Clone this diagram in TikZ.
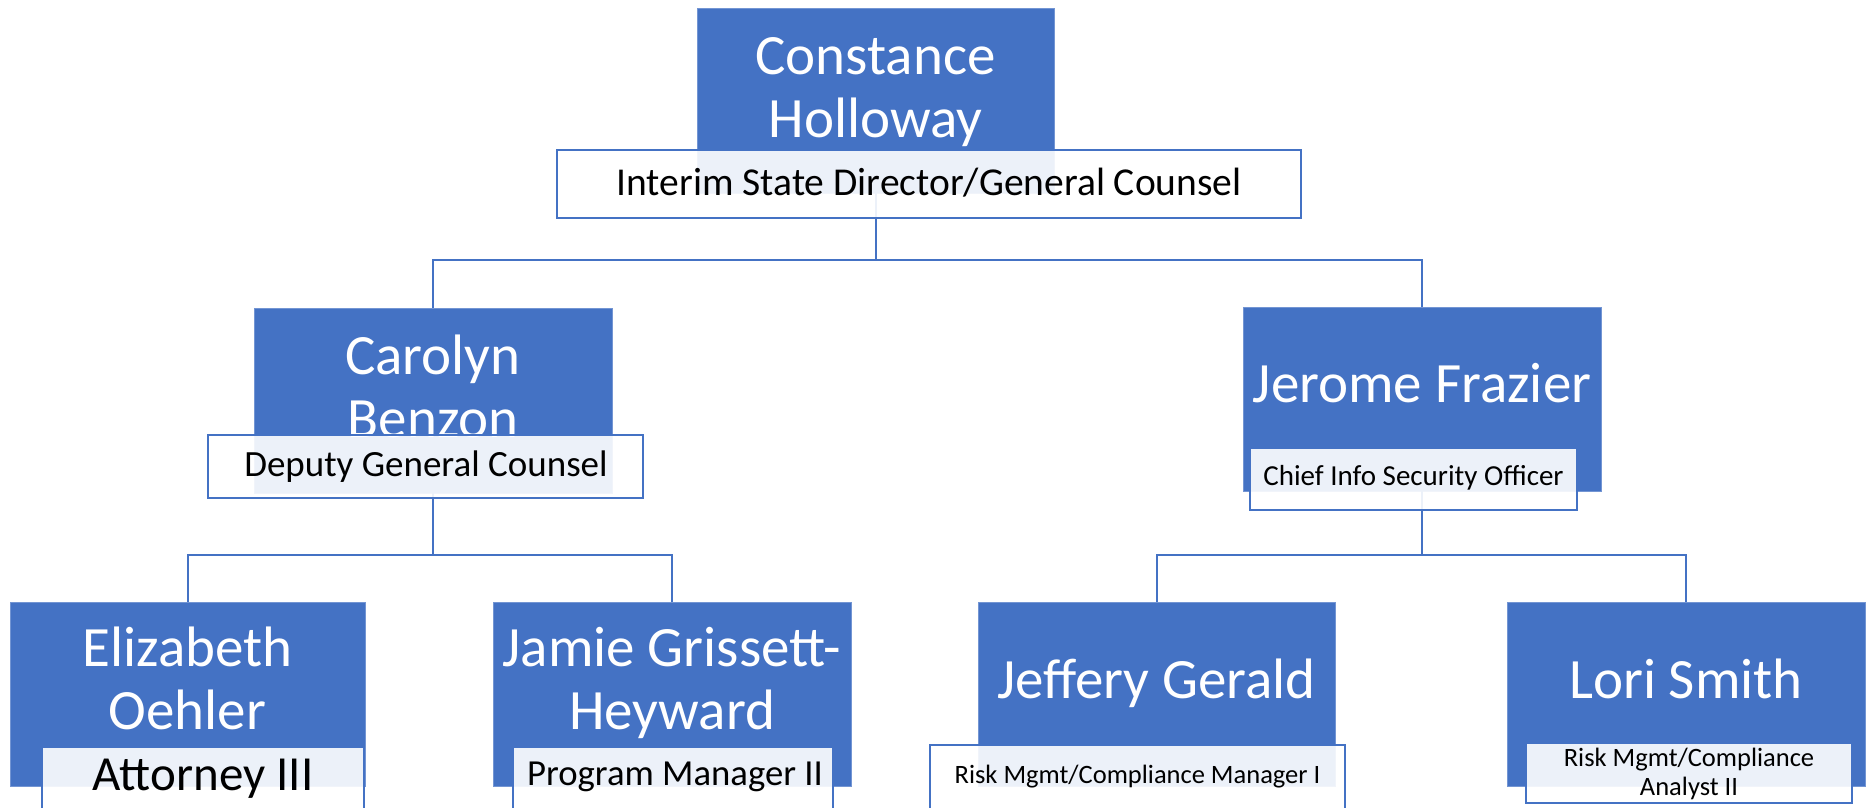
\documentclass[tikz,border=0pt]{standalone}
\usepackage{fontspec}
\setmainfont{Carlito}
\definecolor{accent}{HTML}{4472C4}
\begin{document}
\begin{tikzpicture}[x=1pt,y=-1pt,
  person/.style={rectangle, fill=accent, draw=accent!75!white, line width=0.8pt, inner sep=0pt, outer sep=0pt},
  rolebox/.style={rectangle, fill=white, fill opacity=0.9, draw=accent, draw opacity=1, line width=2pt, inner sep=0pt, outer sep=0pt},
  nametext/.style={text=white, font=\fontsize{57}{63}\selectfont, anchor=base, inner sep=0pt},
  roletext/.style={text=black, anchor=base, inner sep=0pt},
  link/.style={draw=accent, line width=2pt}]
\useasboundingbox (0,0) rectangle (1872,807);

% person boxes
\node[person, minimum width=357, minimum height=185] (constance) at (875.5,100.5) {};
\node[person, minimum width=358, minimum height=185] (carolyn) at (433,400.5) {};
\node[person, minimum width=358, minimum height=184] (jerome) at (1422,399) {};
\node[person, minimum width=355, minimum height=184] (elizabeth) at (187.5,694) {};
\node[person, minimum width=358, minimum height=184] (jamie) at (672,694) {};
\node[person, minimum width=357, minimum height=184] (jeffery) at (1156.5,694) {};
\node[person, minimum width=358, minimum height=184] (lori) at (1686,694) {};

% connectors (drawn behind the role boxes)
\begin{scope}[on background layer/.try]
\end{scope}
\draw[link] (constance.south) -- ++(0,67) coordinate (j0) -| (carolyn.north);
\draw[link] (j0) -| (jerome.north);
\draw[link] (carolyn.south) -- ++(0,62) coordinate (j1) -| (elizabeth.north);
\draw[link] (j1) -| (jamie.north);
\draw[link] (jerome.south) -- ++(0,64) coordinate (j2) -| (jeffery.north);
\draw[link] (j2) -| (lori.north);

% names
\node[nametext] (constanceA) at (875.5,74) {Constance};
\node[nametext] (constanceB) at (875.5,137) {Holloway};
\node[nametext] (carolynA) at (433,374) {Carolyn};
\node[nametext] (carolynB) at (433,437) {Benzon};
\node[nametext] (jeromeA) at (1422,402) {Jerome Frazier};
\node[nametext] (elizabethA) at (187.5,666) {Elizabeth};
\node[nametext] (elizabethB) at (187.5,729) {Oehler};
\node[nametext] (jamieA) at (672,666) {Jamie Grissett-};
\node[nametext] (jamieB) at (672,729) {Heyward};
\node[nametext] (jefferyA) at (1156.5,698) {Jeffery Gerald};
\node[nametext] (loriA) at (1686,698) {Lori Smith};

% role boxes
\node[rolebox, minimum width=744, minimum height=68] (constanceR) at (929,184) {};
\node[rolebox, minimum width=435, minimum height=63] (carolynR) at (425.5,466.5) {};
\node[rolebox, minimum width=327, minimum height=62] (jeromeR) at (1413.5,479) {};
\node[rolebox, minimum width=322, minimum height=65] (elizabethR) at (203,779.5) {};
\node[rolebox, minimum width=320, minimum height=65] (jamieR) at (673,779.5) {};
\node[rolebox, minimum width=415, minimum height=67] (jefferyR) at (1137.5,778.5) {};
\node[rolebox, minimum width=326, minimum height=60] (loriR) at (1689,773) {};

% role texts
\node[roletext, font=\fontsize{39.5}{44}\selectfont] (constanceT) at (929,195) {Interim State Director/General Counsel};
\node[roletext, font=\fontsize{37}{42}\selectfont] (carolynT) at (426,476) {Deputy General Counsel};
\node[roletext, font=\fontsize{29}{33}\selectfont] (jeromeT) at (1413.5,485) {Chief Info Security Officer};
\node[roletext, font=\fontsize{49}{55}\selectfont] (elizabethT) at (203,790) {Attorney III};
\node[roletext, font=\fontsize{36.7}{41}\selectfont] (jamieT) at (675,785) {Program Manager II};
\node[roletext, font=\fontsize{26.5}{30}\selectfont] (jefferyT) at (1137.5,783) {Risk Mgmt/Compliance Manager I};
\node[roletext, font=\fontsize{26.5}{30}\selectfont] (loriTA) at (1689,766) {Risk Mgmt/Compliance};
\node[roletext, font=\fontsize{26.5}{30}\selectfont] (loriTB) at (1689,795) {Analyst II};
\end{tikzpicture}
\end{document}
